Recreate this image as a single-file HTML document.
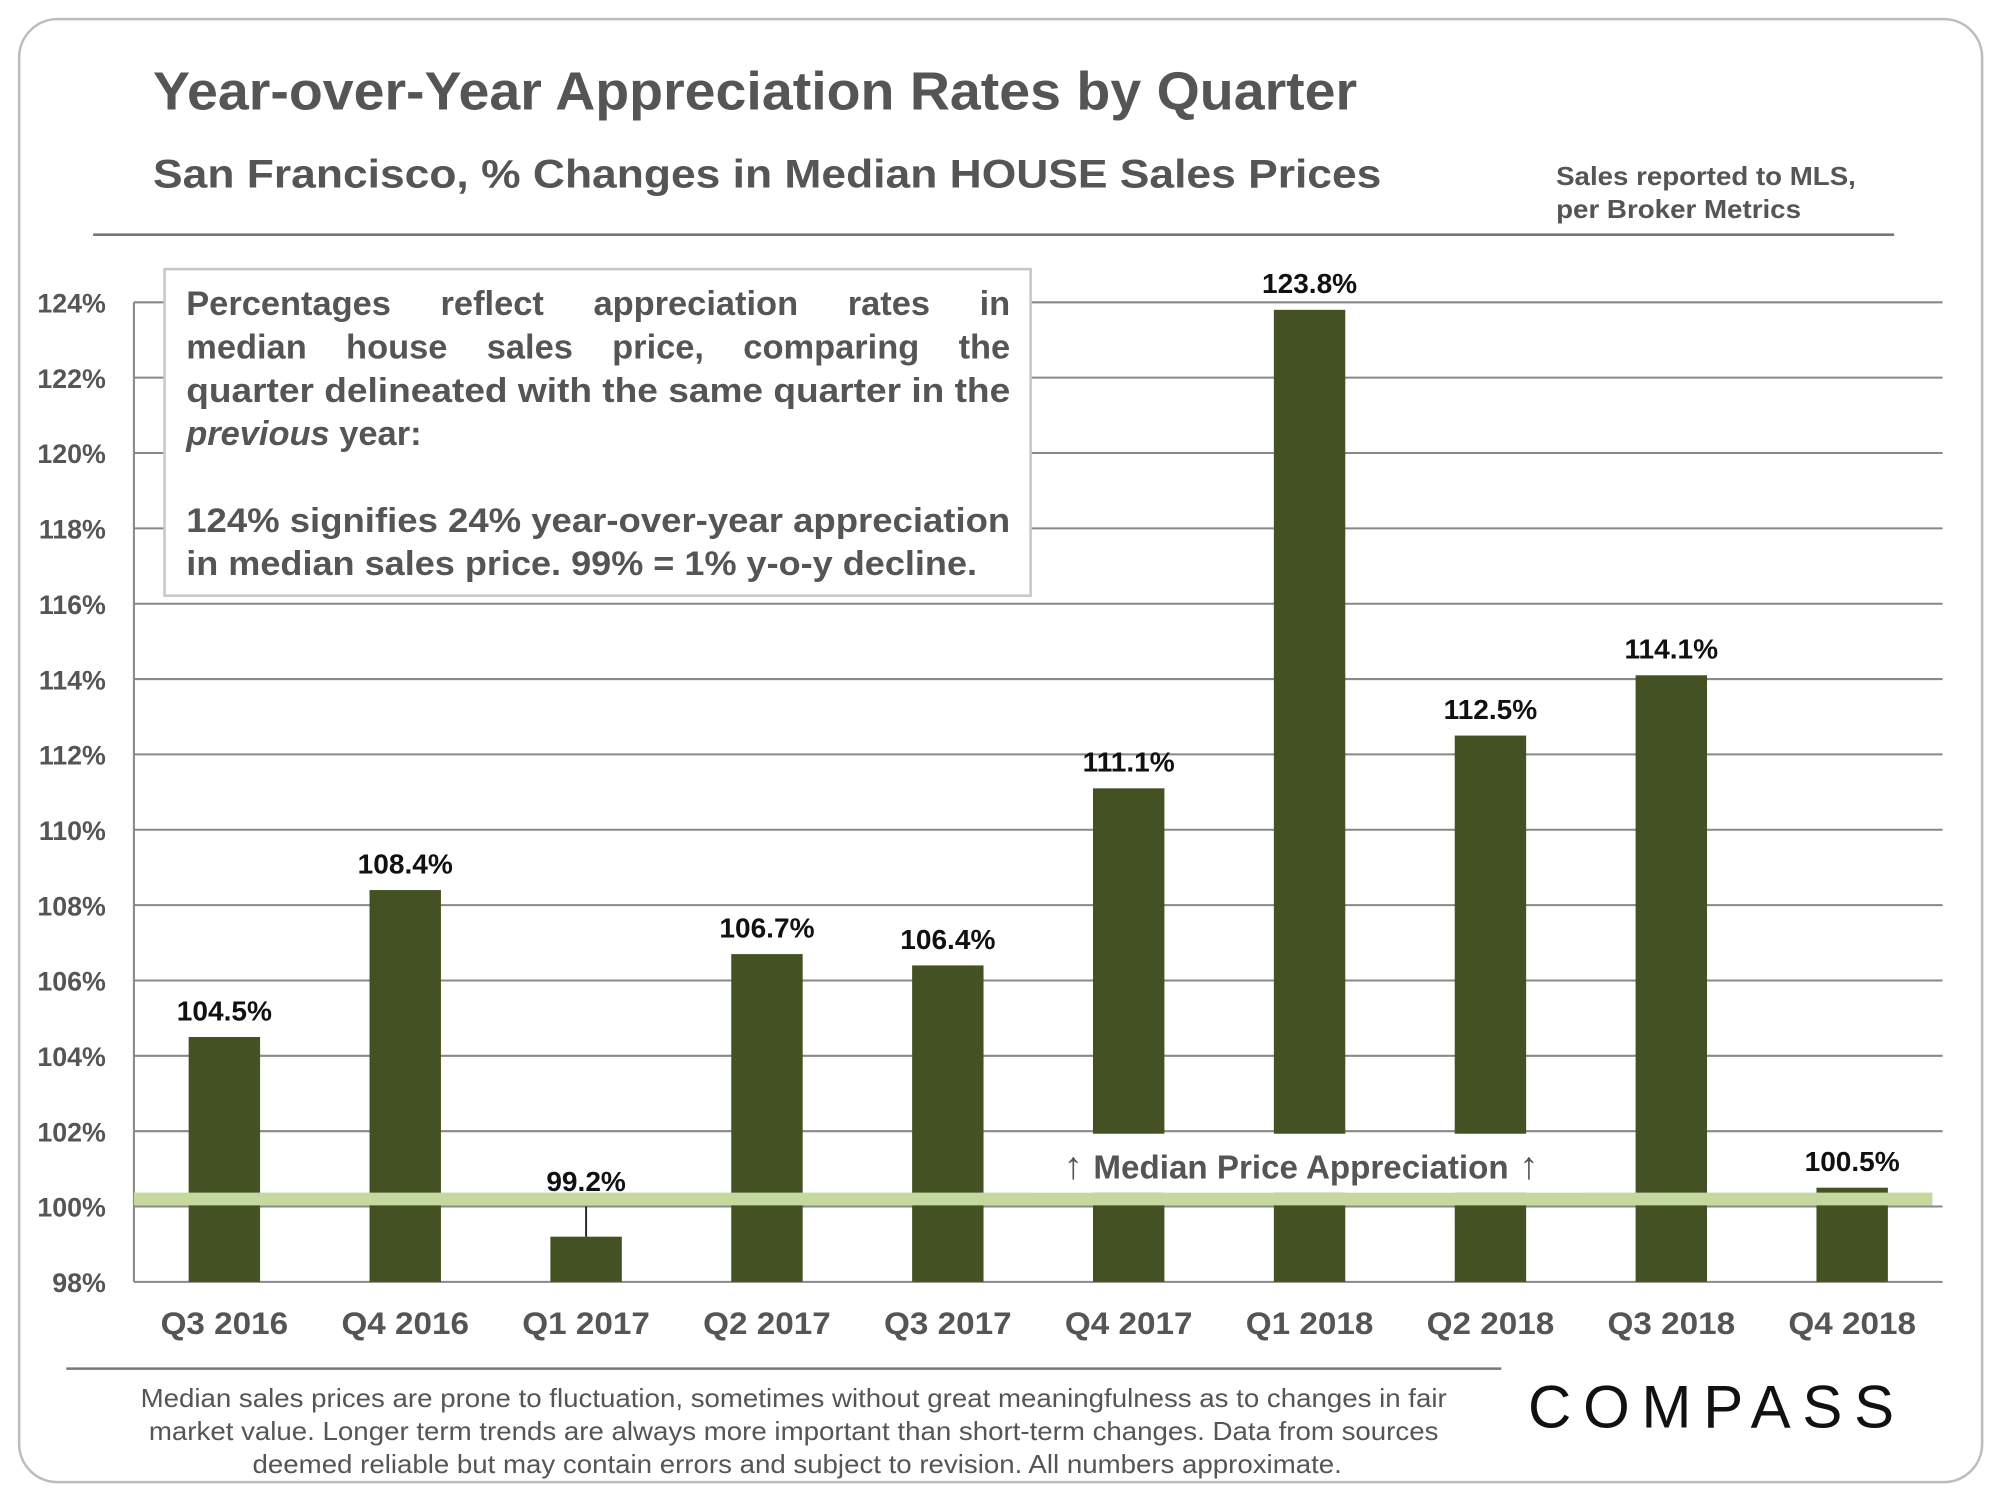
<!DOCTYPE html>
<html><head><meta charset="utf-8"><style>
html,body{margin:0;padding:0;background:#fff;}
svg{display:block;font-family:"Liberation Sans",Arial,sans-serif;}
</style></head><body>
<svg id="chart" width="2000" height="1500" viewBox="0 0 1568 1176" preserveAspectRatio="none" xmlns="http://www.w3.org/2000/svg">
<rect x="15" y="15" width="1539" height="1147" rx="30" fill="#fff" stroke="#bdbdbd" stroke-width="2"/>
<text x="120" y="86" font-size="42" font-weight="bold" fill="#555" textLength="944" lengthAdjust="spacingAndGlyphs">Year-over-Year Appreciation Rates by Quarter</text>
<text x="120" y="147" font-size="31" font-weight="bold" fill="#555" textLength="963" lengthAdjust="spacingAndGlyphs">San Francisco, % Changes in Median HOUSE Sales Prices</text>
<text font-size="20" font-weight="bold" fill="#555"><tspan x="1220" y="145" textLength="235" lengthAdjust="spacingAndGlyphs">Sales reported to MLS,</tspan><tspan x="1220" y="171" textLength="192" lengthAdjust="spacingAndGlyphs">per Broker Metrics</tspan></text>
<line x1="73" y1="184" x2="1485" y2="184" stroke="#777" stroke-width="2"/>
<g id="grid"></g>
<g id="bars"></g>
<g id="overlay"></g>
<g id="infobox">
<rect x="129" y="211" width="679" height="256" fill="#fff" stroke="#c8c8c8" stroke-width="2"/>
<text font-size="27" font-weight="bold" fill="#555">
<tspan class="just" x="146" y="247">Percentages reflect appreciation rates in</tspan>
<tspan class="just" x="146" y="281">median house sales price, comparing the</tspan>
<tspan x="146" y="315" textLength="646" lengthAdjust="spacingAndGlyphs">quarter delineated with the same quarter in the</tspan>
<tspan x="146" y="349"><tspan font-style="italic">previous</tspan> year:</tspan>
<tspan x="146" y="417" textLength="646" lengthAdjust="spacingAndGlyphs">124% signifies 24% year-over-year appreciation</tspan>
<tspan x="146" y="451" textLength="620" lengthAdjust="spacingAndGlyphs">in median sales price. 99% = 1% y-o-y decline.</tspan>
</text></g>
<line x1="52" y1="1073" x2="1177" y2="1073" stroke="#777" stroke-width="2"/>
<text font-size="20" fill="#555" text-anchor="middle">
<tspan x="625" y="1103" textLength="1024" lengthAdjust="spacingAndGlyphs">Median sales prices are prone to fluctuation, sometimes without great meaningfulness as to changes in fair</tspan>
<tspan x="625" y="1129" textLength="1011" lengthAdjust="spacingAndGlyphs">market value. Longer term trends are always more important than short-term changes. Data from sources</tspan>
<tspan x="625" y="1155" textLength="854" lengthAdjust="spacingAndGlyphs">deemed reliable but may contain errors and subject to revision. All numbers approximate.</tspan>
</text>
<text x="1198" y="1119" font-size="47" fill="#111" textLength="287" lengthAdjust="spacing">COMPASS</text>
</svg>
<script>
const categories=["Q3 2016","Q4 2016","Q1 2017","Q2 2017","Q3 2017","Q4 2017","Q1 2018","Q2 2018","Q3 2018","Q4 2018"];
const values=[104.5,108.4,99.2,106.7,106.4,111.1,123.8,112.5,114.1,100.5];
const valueLabels=["104.5%","108.4%","99.2%","106.7%","106.4%","111.1%","123.8%","112.5%","114.1%","100.5%"];
const yTicks=[98,100,102,104,106,108,110,112,114,116,118,120,122,124];
const NS="http://www.w3.org/2000/svg";
const X0=105,X1=1523,Y0=1005,Y1=237,YMIN=98,YMAX=124;
const band=(X1-X0)/categories.length;
function y(v){return Y0-(v-YMIN)/(YMAX-YMIN)*(Y0-Y1);}
function xc(i){return X0+band*(i+0.5);}
function mk(tag,attrs,parent){const e=document.createElementNS(NS,tag);for(const k in attrs)e.setAttribute(k,attrs[k]);parent.appendChild(e);return e;}
const grid=document.getElementById('grid'),bars=document.getElementById('bars'),ov=document.getElementById('overlay');
yTicks.forEach(t=>{
  const l=mk('line',{x1:X0,x2:X1,y1:y(t),y2:y(t),stroke:'#888','stroke-width':1.6},grid);
  
  
  const tx=mk('text',{x:83,y:y(t)+8,'text-anchor':'end','font-size':21,'font-weight':'bold',fill:'#555'},grid);
  tx.textContent=t+'%';
  
  
});
const ax=mk('line',{x1:X0,x2:X0,y1:Y1,y2:Y0,stroke:'#888','stroke-width':1.6},grid);


const bw=56;
values.forEach((v,i)=>{
  const base=y(YMIN);
  const r=mk('rect',{x:xc(i)-bw/2,y:y(v),width:bw,height:base-y(v),fill:'#445223'},bars);
  
  
  let ly=y(v)-13;
  if(v<100){
    const ld=mk('line',{x1:xc(i),x2:xc(i),y1:y(100),y2:y(v),stroke:'#222','stroke-width':1.5},bars);
    
    
    ly=y(100)-12;
  }
  const t=mk('text',{x:xc(i),y:ly,'text-anchor':'middle','font-size':22,'font-weight':'bold',fill:'#111'},bars);
  t.textContent=valueLabels[i];
  
  
  const c=mk('text',{x:xc(i),y:1046,'text-anchor':'middle','font-size':25,'font-weight':'bold',fill:'#555',textLength:100,lengthAdjust:'spacingAndGlyphs'},bars);
  c.textContent=categories[i];
  
  
});
const hb=mk('rect',{x:X0,y:y(100.2)-5,width:1410,height:10,fill:'#c5d89e'},ov);


const wb=mk('rect',{x:810,y:y(102)+2,width:430,height:y(100.2)-5-(y(102)+2),fill:'#fff'},ov);


const at=mk('text',{x:1020,y:924,'text-anchor':'middle','font-size':26,'font-weight':'bold',fill:'#555'},ov);


const a1=mk('tspan',{'font-size':30},at);a1.textContent='↑ ';
const a2=mk('tspan',{},at);a2.textContent='Median Price Appreciation';
const a3=mk('tspan',{'font-size':30},at);a3.textContent=' ↑';
// justify lines via word-spacing
document.querySelectorAll('tspan.just').forEach(ts=>{
  const w=ts.getComputedTextLength();
  const gaps=ts.textContent.trim().split(/\s+/).length-1;
  if(gaps>0&&w<646) ts.setAttribute('word-spacing',((646-w)/gaps).toFixed(2));
});
</script>
</body></html>
